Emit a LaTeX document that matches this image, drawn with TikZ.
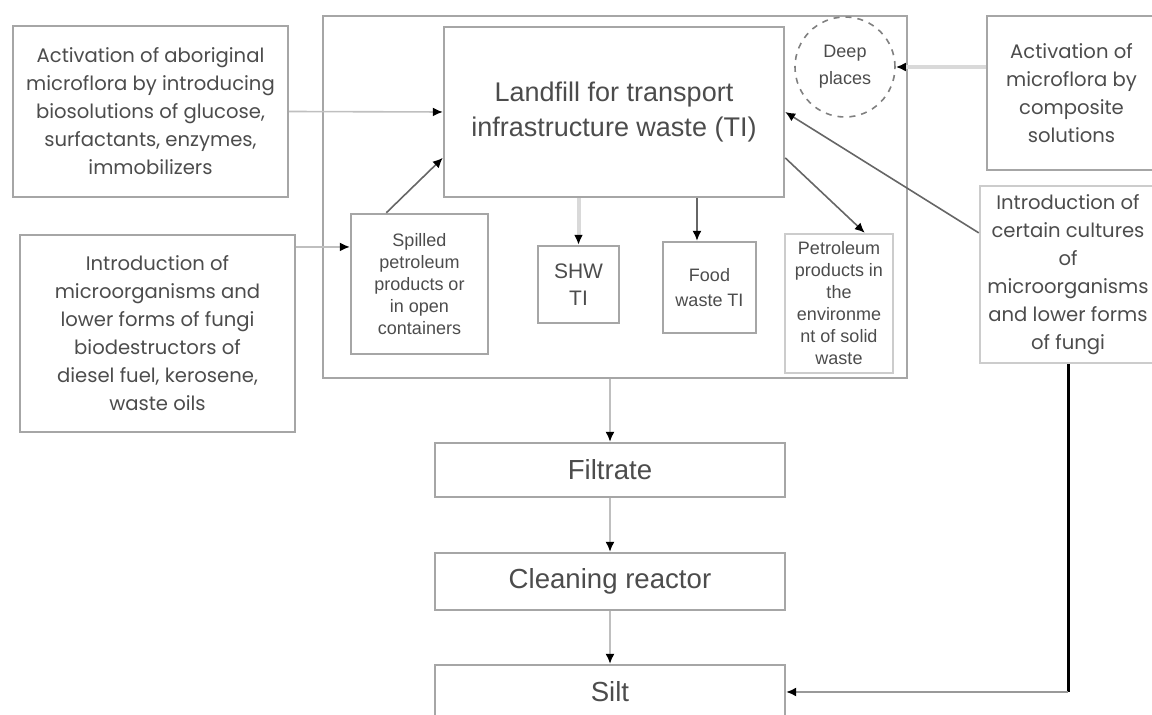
\documentclass[tikz,border=0pt]{standalone}
\usepackage{fontspec}
\setmainfont{Liberation Sans}
\newfontfamily\geofont{Poppins}
\usetikzlibrary{arrows.meta}

\begin{document}
\begin{tikzpicture}[x=0.5pt, y=-0.5pt]
		\tikzset{nd/.style={rectangle, draw=black!35, line width=1.2pt, align=center, text=black!70, inner sep=2pt}};
		\tikzset{side/.style={nd, font=\geofont\fontsize{9.8}{14}\selectfont}};
		\tikzset{ar/.style={draw=black!25, line width=0.8pt, -{Latex[color=black, length=5pt, width=4.5pt]}}};

		\useasboundingbox (0,0) rectangle (1152,715);

		\node[nd, minimum width=292pt, minimum height=181pt] (frame) at (615,197) {};
		\node[nd, minimum width=170pt, minimum height=85pt, font=\fontsize{13.5}{17.5}\selectfont] (landfill) at (614,112) {Landfill for transport\\infrastructure waste (TI)};
		\node[circle, dashed, draw=black!50, line width=0.8pt, minimum size=50pt, align=center, text=black!70, font=\fontsize{9}{13.5}\selectfont] (deep) at (845,67) {Deep\\places};
		\node[nd, minimum width=68.5pt, minimum height=70pt, font=\fontsize{9}{11}\selectfont] (spill) at (419.5,284) {Spilled\\petroleum\\products or\\in open\\containers};
		\node[nd, minimum width=40.5pt, minimum height=38.5pt, font=\fontsize{10.5}{13.5}\selectfont] (shw) at (578.5,284.5) {SHW\\TI};
		\node[nd, minimum width=46.5pt, minimum height=45.5pt, font=\fontsize{9}{12.5}\selectfont] (food) at (709.5,287.5) {Food\\waste TI};
		\node[nd, draw=black!20, minimum width=54pt, minimum height=69.5pt, font=\fontsize{9}{11}\selectfont] (petro) at (839,303.5) {Petroleum\\products in\\the\\environme\\nt of solid\\waste};

		\node[side, minimum width=137.5pt, minimum height=85.5pt] (act1) at (150.5,111.5) {Activation of aboriginal\\microflora by introducing\\biosolutions of glucose,\\surfactants, enzymes,\\immobilizers};
		\node[side, minimum width=137.5pt, minimum height=98.5pt] (intro1) at (157.5,333.5) {Introduction of\\microorganisms and\\lower forms of fungi\\biodestructors of\\diesel fuel, kerosene,\\waste oils};
		\node[side, minimum width=84.5pt, minimum height=77pt] (act2) at (1071.5,93) {Activation of\\microflora by\\composite\\solutions};
		\node[side, draw=black!20, minimum width=88pt, minimum height=88.5pt] (intro2) at (1068,274.5) {Introduction of\\certain cultures\\of\\microorganisms\\and lower forms\\of fungi};

		\node[nd, minimum width=175pt, minimum height=27pt, font=\fontsize{13.8}{16}\selectfont] (filtrate) at (610,470) {Filtrate};
		\node[nd, minimum width=175pt, minimum height=28.5pt, font=\fontsize{13.8}{16}\selectfont] (reactor) at (610,581.5) {Cleaning reactor};
		\node[nd, minimum width=175pt, minimum height=27pt, font=\fontsize{13.8}{16}\selectfont] (silt) at (610,692) {Silt};

		\coordinate (turn) at (intro2.south |- silt.east);

		\draw[ar] (act1.east) to (landfill.west);
		\draw[ar] (spill.152 -| intro1.east) to (spill.152);
		\draw[ar, draw=black!60] (spill.115) to (landfill.195);
		\draw[ar, draw=black!15, line width=2pt] (shw.north |- landfill.south) to (shw.north);
		\draw[ar, draw=black!60] (food.105 |- landfill.south) to (food.105);
		\draw[ar, draw=black!60] (landfill.-15) to (petro.70);
		\draw[ar, draw=black!60] (intro2.155) to (landfill.east);
		\draw[ar, draw=black!15, line width=2pt] (deep.east -| act2.west) to (deep.east);

		\draw[ar] (filtrate.north |- frame.south) to (filtrate.north);
		\draw[ar] (filtrate) to (reactor);
		\draw[ar] (reactor) to (silt);

		\draw[black, line width=1.5pt] (intro2.south) to (turn);
		\draw[ar, draw=black!40] (turn) to (silt.east);

	\end{tikzpicture}
\end{document}
